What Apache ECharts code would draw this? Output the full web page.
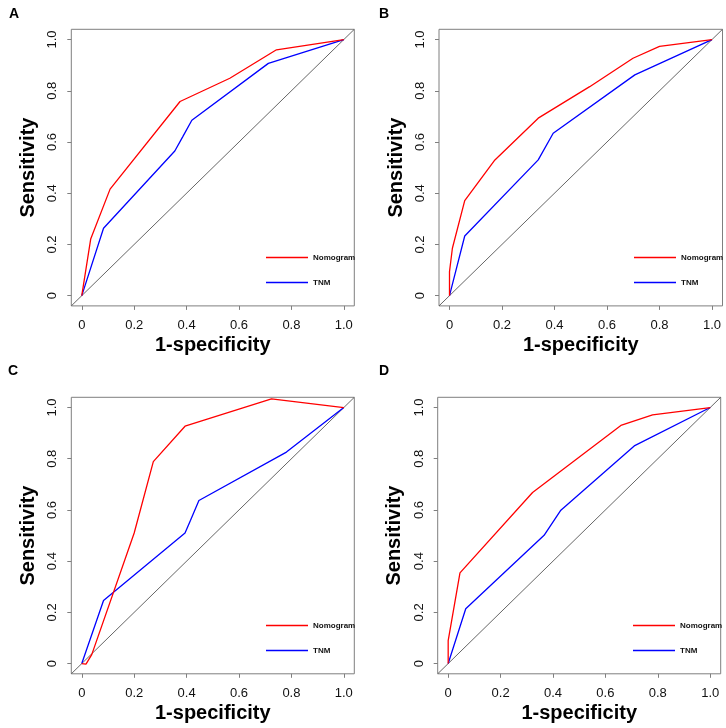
<!DOCTYPE html>
<html>
<head>
<meta charset="utf-8">
<script src="https://cdn.jsdelivr.net/npm/echarts@6/dist/echarts.min.js"></script>
<style>html,body{margin:0;padding:0;background:#fff}#c{width:726px;height:728px}</style>
</head>
<body>
<div id="c"></div>
<script>
// ---- data ----
var panelLetters = ['A', 'B', 'C', 'D'];
var seriesNames = ['Nomogram', 'TNM'];
var tickValues = [0, 0.2, 0.4, 0.6, 0.8, 1.0];
var tickLabels = ['0', '0.2', '0.4', '0.6', '0.8', '1.0'];
var refLineX = [-0.04, 1.04];
var refLineY = [-0.04, 1.04];

var A_nomX = [0, 0.034, 0.108, 0.375, 0.565, 0.743, 1];
var A_nomY = [0, 0.221, 0.416, 0.758, 0.849, 0.96, 1];
var A_tnmX = [0, 0.083, 0.355, 0.385, 0.42, 0.712, 1];
var A_tnmY = [0, 0.263, 0.565, 0.62, 0.685, 0.907, 1];

var B_nomX = [0, 0, 0.011, 0.058, 0.173, 0.338, 0.534, 0.699, 0.80, 1];
var B_nomY = [0, 0.094, 0.185, 0.371, 0.53, 0.693, 0.816, 0.927, 0.973, 1];
var B_tnmX = [0, 0.058, 0.338, 0.395, 0.706, 1];
var B_tnmY = [0, 0.233, 0.53, 0.634, 0.862, 1];

var C_nomX = [0, 0.016, 0.038, 0.2, 0.273, 0.394, 0.724, 1];
var C_nomY = [0, -0.002, 0.035, 0.51, 0.789, 0.927, 1.034, 1];
var C_tnmX = [0, 0.083, 0.394, 0.415, 0.447, 0.781, 1];
var C_tnmY = [0, 0.246, 0.51, 0.56, 0.637, 0.826, 1];

var D_nomX = [0, 0, 0.045, 0.322, 0.659, 0.78, 1];
var D_nomY = [0, 0.09, 0.354, 0.668, 0.93, 0.971, 1];
var D_tnmX = [0, 0.067, 0.366, 0.43, 0.71, 1];
var D_tnmY = [0, 0.214, 0.501, 0.599, 0.85, 1];

var xTitle = '1-specificity';
var yTitle = 'Sensitivity';

// ---- layout ----
var FONT = '"Liberation Sans", Arial, sans-serif';
var grids = [
  {left: 71.3, top: 29.3, width: 283, height: 276.6},
  {left: 439, top: 29.3, width: 283.5, height: 276.6},
  {left: 71.3, top: 397.3, width: 283, height: 276.5},
  {left: 437.7, top: 397.3, width: 283, height: 276.5}
];
var legendPos = [
  {left: 266, top: 251.5},
  {left: 634, top: 251.5},
  {left: 266, top: 619.5},
  {left: 633, top: 619.5}
];
var letterPos = [[9, 14.5], [379, 14.5], [8, 371.5], [379, 371.5]];
var panelData = [
  [A_nomX, A_nomY, A_tnmX, A_tnmY],
  [B_nomX, B_nomY, B_tnmX, B_tnmY],
  [C_nomX, C_nomY, C_tnmX, C_tnmY],
  [D_nomX, D_nomY, D_tnmX, D_tnmY]
];
function zip(xs, ys) { return xs.map(function (x, i) { return [x, ys[i]]; }); }
function fmt(v) { var i = tickValues.indexOf(Math.round(v * 10) / 10); return i >= 0 ? tickLabels[i] : ''; }

var option = {
  backgroundColor: '#fff',
  animation: false,
  grid: [], xAxis: [], yAxis: [], series: [], legend: [], graphic: []
};
var colors = ['#ff0000', '#0000ff'];
grids.forEach(function (g, i) {
  option.grid.push({left: g.left, top: g.top, width: g.width, height: g.height, show: true,
    borderColor: '#7f7f7f', borderWidth: 1, backgroundColor: 'transparent'});
  var common = {
    type: 'value', gridIndex: i, min: -0.04, max: 1.04,
    axisLine: {show: false, onZero: false}, splitLine: {show: false},
    axisTick: {show: true, customValues: tickValues, length: 4, lineStyle: {color: '#7f7f7f', width: 1}},
    axisLabel: {customValues: tickValues, fontFamily: FONT, fontSize: 13, color: '#111'},
    nameLocation: 'middle',
    nameTextStyle: {fontFamily: FONT, fontSize: 20, fontWeight: 'bold', color: '#000'}
  };
  var xa = JSON.parse(JSON.stringify(common));
  xa.axisLabel.formatter = fmt; xa.axisLabel.margin = 13;
  xa.name = xTitle; xa.nameGap = 30; xa.position = 'bottom';
  var ya = JSON.parse(JSON.stringify(common));
  ya.axisLabel.formatter = fmt; ya.axisLabel.margin = 12; ya.axisLabel.rotate = 90;
  ya.name = yTitle; ya.nameGap = 33; ya.position = 'left';
  option.xAxis.push(xa); option.yAxis.push(ya);

  var d = panelData[i];
  option.series.push({type: 'line', xAxisIndex: i, yAxisIndex: i, data: zip(refLineX, refLineY),
    symbol: 'none', silent: true, lineStyle: {color: '#555', width: 0.9}, z: 1});
  option.series.push({name: seriesNames[0], type: 'line', xAxisIndex: i, yAxisIndex: i,
    data: zip(d[0], d[1]), symbol: 'none', lineStyle: {color: colors[0], width: 1.3}, itemStyle: {color: colors[0]}, z: 3});
  option.series.push({name: seriesNames[1], type: 'line', xAxisIndex: i, yAxisIndex: i,
    data: zip(d[2], d[3]), symbol: 'none', lineStyle: {color: colors[1], width: 1.3}, itemStyle: {color: colors[1]}, z: 2});

  option.legend.push({data: seriesNames, orient: 'vertical', left: legendPos[i].left, top: legendPos[i].top,
    icon: 'rect', itemWidth: 42, itemHeight: 1.3, itemGap: 13, padding: 0,
    textStyle: {fontFamily: FONT, fontSize: 8, fontWeight: 'bold', color: '#111', lineHeight: 12}});

  option.graphic.push({type: 'text', left: letterPos[i][0], top: letterPos[i][1] - 7,
    style: {text: panelLetters[i], font: 'bold 14px ' + FONT, fill: '#000'}});
});

var chart = echarts.init(document.getElementById('c'), null, {renderer: 'canvas'});
chart.setOption(option);
</script>
</body>
</html>
